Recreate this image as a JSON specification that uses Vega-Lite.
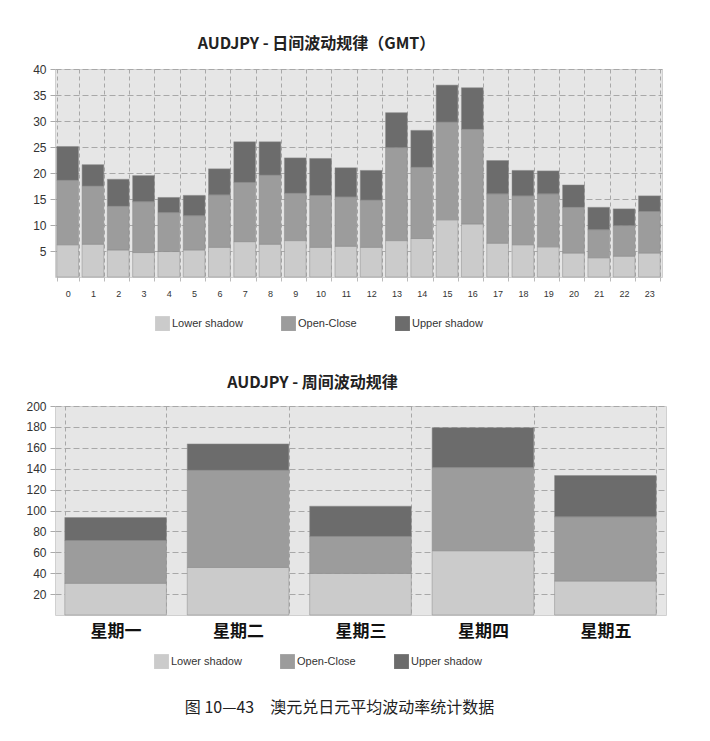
{
  "$schema": "https://vega.github.io/schema/vega-lite/v6.json",
  "background": "white",
  "padding": {"left": 22, "top": 35, "right": 40, "bottom": 20},
  "spacing": 42,
  "title": {"text": "图 10—43　澳元兑日元平均波动率统计数据", "orient": "bottom", "anchor": "middle", "font": "Noto Sans CJK SC", "fontSize": 16, "fontWeight": "normal", "color": "#222", "offset": 30, "dx": -5},
  "datasets": {
    "hourly": [
      {"hour": "0", "type": "Lower shadow", "value": 6.2}, {"hour": "0", "type": "Open-Close", "value": 12.4}, {"hour": "0", "type": "Upper shadow", "value": 6.5},
      {"hour": "1", "type": "Lower shadow", "value": 6.3}, {"hour": "1", "type": "Open-Close", "value": 11.2}, {"hour": "1", "type": "Upper shadow", "value": 4.1},
      {"hour": "2", "type": "Lower shadow", "value": 5.2}, {"hour": "2", "type": "Open-Close", "value": 8.4}, {"hour": "2", "type": "Upper shadow", "value": 5.2},
      {"hour": "3", "type": "Lower shadow", "value": 4.7}, {"hour": "3", "type": "Open-Close", "value": 9.8}, {"hour": "3", "type": "Upper shadow", "value": 5.0},
      {"hour": "4", "type": "Lower shadow", "value": 4.9}, {"hour": "4", "type": "Open-Close", "value": 7.5}, {"hour": "4", "type": "Upper shadow", "value": 2.9},
      {"hour": "5", "type": "Lower shadow", "value": 5.2}, {"hour": "5", "type": "Open-Close", "value": 6.6}, {"hour": "5", "type": "Upper shadow", "value": 3.9},
      {"hour": "6", "type": "Lower shadow", "value": 5.7}, {"hour": "6", "type": "Open-Close", "value": 10.1}, {"hour": "6", "type": "Upper shadow", "value": 5.0},
      {"hour": "7", "type": "Lower shadow", "value": 6.8}, {"hour": "7", "type": "Open-Close", "value": 11.4}, {"hour": "7", "type": "Upper shadow", "value": 7.8},
      {"hour": "8", "type": "Lower shadow", "value": 6.3}, {"hour": "8", "type": "Open-Close", "value": 13.3}, {"hour": "8", "type": "Upper shadow", "value": 6.4},
      {"hour": "9", "type": "Lower shadow", "value": 7.0}, {"hour": "9", "type": "Open-Close", "value": 9.1}, {"hour": "9", "type": "Upper shadow", "value": 6.8},
      {"hour": "10", "type": "Lower shadow", "value": 5.7}, {"hour": "10", "type": "Open-Close", "value": 10.0}, {"hour": "10", "type": "Upper shadow", "value": 7.1},
      {"hour": "11", "type": "Lower shadow", "value": 5.9}, {"hour": "11", "type": "Open-Close", "value": 9.5}, {"hour": "11", "type": "Upper shadow", "value": 5.6},
      {"hour": "12", "type": "Lower shadow", "value": 5.7}, {"hour": "12", "type": "Open-Close", "value": 9.1}, {"hour": "12", "type": "Upper shadow", "value": 5.7},
      {"hour": "13", "type": "Lower shadow", "value": 7.0}, {"hour": "13", "type": "Open-Close", "value": 17.9}, {"hour": "13", "type": "Upper shadow", "value": 6.7},
      {"hour": "14", "type": "Lower shadow", "value": 7.4}, {"hour": "14", "type": "Open-Close", "value": 13.7}, {"hour": "14", "type": "Upper shadow", "value": 7.1},
      {"hour": "15", "type": "Lower shadow", "value": 11.0}, {"hour": "15", "type": "Open-Close", "value": 18.8}, {"hour": "15", "type": "Upper shadow", "value": 7.1},
      {"hour": "16", "type": "Lower shadow", "value": 10.2}, {"hour": "16", "type": "Open-Close", "value": 18.2}, {"hour": "16", "type": "Upper shadow", "value": 8.0},
      {"hour": "17", "type": "Lower shadow", "value": 6.5}, {"hour": "17", "type": "Open-Close", "value": 9.5}, {"hour": "17", "type": "Upper shadow", "value": 6.4},
      {"hour": "18", "type": "Lower shadow", "value": 6.2}, {"hour": "18", "type": "Open-Close", "value": 9.4}, {"hour": "18", "type": "Upper shadow", "value": 4.9},
      {"hour": "19", "type": "Lower shadow", "value": 5.8}, {"hour": "19", "type": "Open-Close", "value": 10.2}, {"hour": "19", "type": "Upper shadow", "value": 4.4},
      {"hour": "20", "type": "Lower shadow", "value": 4.6}, {"hour": "20", "type": "Open-Close", "value": 8.8}, {"hour": "20", "type": "Upper shadow", "value": 4.3},
      {"hour": "21", "type": "Lower shadow", "value": 3.7}, {"hour": "21", "type": "Open-Close", "value": 5.4}, {"hour": "21", "type": "Upper shadow", "value": 4.3},
      {"hour": "22", "type": "Lower shadow", "value": 4.0}, {"hour": "22", "type": "Open-Close", "value": 5.9}, {"hour": "22", "type": "Upper shadow", "value": 3.2},
      {"hour": "23", "type": "Lower shadow", "value": 4.6}, {"hour": "23", "type": "Open-Close", "value": 8.0}, {"hour": "23", "type": "Upper shadow", "value": 3.0}
    ],
    "weekly": [
      {"day": "星期一", "type": "Lower shadow", "value": 30.3}, {"day": "星期一", "type": "Open-Close", "value": 41.0}, {"day": "星期一", "type": "Upper shadow", "value": 22.0},
      {"day": "星期二", "type": "Lower shadow", "value": 45.5}, {"day": "星期二", "type": "Open-Close", "value": 93.0}, {"day": "星期二", "type": "Upper shadow", "value": 25.2},
      {"day": "星期三", "type": "Lower shadow", "value": 39.8}, {"day": "星期三", "type": "Open-Close", "value": 35.4}, {"day": "星期三", "type": "Upper shadow", "value": 28.9},
      {"day": "星期四", "type": "Lower shadow", "value": 61.5}, {"day": "星期四", "type": "Open-Close", "value": 79.6}, {"day": "星期四", "type": "Upper shadow", "value": 38.2},
      {"day": "星期五", "type": "Lower shadow", "value": 32.5}, {"day": "星期五", "type": "Open-Close", "value": 61.5}, {"day": "星期五", "type": "Upper shadow", "value": 39.4}
    ]
  },
  "vconcat": [
    {
      "data": {"name": "hourly"},
      "width": 607,
      "height": 208,
      "title": {"text": "AUDJPY - 日间波动规律（GMT）", "font": "Noto Sans CJK SC", "fontSize": 16, "fontWeight": "bold", "color": "#222", "anchor": "middle", "offset": 11, "dx": -42},
      "mark": {"type": "bar", "stroke": "#8a8a8a", "strokeWidth": 0.5},
      "encoding": {
        "x": {"field": "hour", "type": "ordinal", "sort": null, "title": null,
          "scale": {"paddingInner": 0.14, "paddingOuter": 0.07},
          "axis": {"labelAngle": 0, "labelFontSize": 9, "labelColor": "#333", "labelPadding": 8, "domain": false, "ticks": true, "tickColor": "#bbb", "tickSize": 4, "grid": true, "gridDash": [4, 3], "gridColor": "#a8a8a8", "tickBand": "extent"}},
        "y": {"field": "value", "type": "quantitative", "aggregate": "sum", "stack": "zero", "title": null,
          "scale": {"domain": [0, 40], "nice": false},
          "axis": {"values": [5, 10, 15, 20, 25, 30, 35, 40], "labelFontSize": 12, "labelColor": "#333", "domain": false, "tickColor": "#aaa", "tickSize": 5, "labelPadding": 4, "minExtent": 32, "maxExtent": 32, "gridDash": [6, 3], "gridColor": "#a8a8a8"}},
        "color": {"field": "type", "type": "nominal", "title": null,
          "scale": {"domain": ["Lower shadow", "Open-Close", "Upper shadow"], "range": ["#cbcbcb", "#9c9c9c", "#6c6c6c"]},
          "legend": {"orient": "none", "legendX": 100, "legendY": 247, "direction": "horizontal", "symbolType": "square", "symbolSize": 220, "symbolStrokeWidth": 0, "labelFontSize": 11, "labelColor": "#333", "columnPadding": 38, "labelOffset": 2}},
        "order": {"field": "type", "type": "nominal", "sort": "ascending"}
      }
    },
    {
      "data": {"name": "weekly"},
      "width": 611,
      "height": 209,
      "title": {"text": "AUDJPY - 周间波动规律", "font": "Noto Sans CJK SC", "fontSize": 16, "fontWeight": "bold", "color": "#222", "anchor": "middle", "offset": 9, "dx": -48},
      "mark": {"type": "bar", "stroke": "#8a8a8a", "strokeWidth": 0.5},
      "encoding": {
        "x": {"field": "day", "type": "ordinal", "sort": null, "title": null,
          "scale": {"paddingInner": 0.17, "paddingOuter": 0.08},
          "axis": {"labelAngle": 0, "labelFont": "Noto Sans CJK SC", "labelFontWeight": "bold", "labelFontSize": 17, "labelColor": "#111", "labelPadding": 8, "domain": false, "ticks": false, "grid": true, "gridDash": [4, 3], "gridColor": "#a8a8a8", "tickBand": "extent"}},
        "y": {"field": "value", "type": "quantitative", "aggregate": "sum", "stack": "zero", "title": null,
          "scale": {"domain": [0, 200], "nice": false},
          "axis": {"values": [20, 40, 60, 80, 100, 120, 140, 160, 180, 200], "labelFontSize": 12, "labelColor": "#333", "domain": false, "tickColor": "#aaa", "tickSize": 5, "labelPadding": 4, "minExtent": 32, "maxExtent": 32, "gridDash": [6, 3], "gridColor": "#a8a8a8"}},
        "color": {"field": "type", "type": "nominal", "title": null,
          "scale": {"domain": ["Lower shadow", "Open-Close", "Upper shadow"], "range": ["#cbcbcb", "#9c9c9c", "#6c6c6c"]},
          "legend": {"orient": "none", "legendX": 99, "legendY": 248, "direction": "horizontal", "symbolType": "square", "symbolSize": 220, "symbolStrokeWidth": 0, "labelFontSize": 11, "labelColor": "#333", "columnPadding": 38, "labelOffset": 2}},
        "order": {"field": "type", "type": "nominal", "sort": "ascending"}
      }
    }
  ],
  "resolve": {"scale": {"color": "independent"}, "legend": {"color": "independent"}},
  "config": {
    "font": "Liberation Sans",
    "view": {"fill": "#e6e6e6", "stroke": "#d0d0d0"}
  }
}
